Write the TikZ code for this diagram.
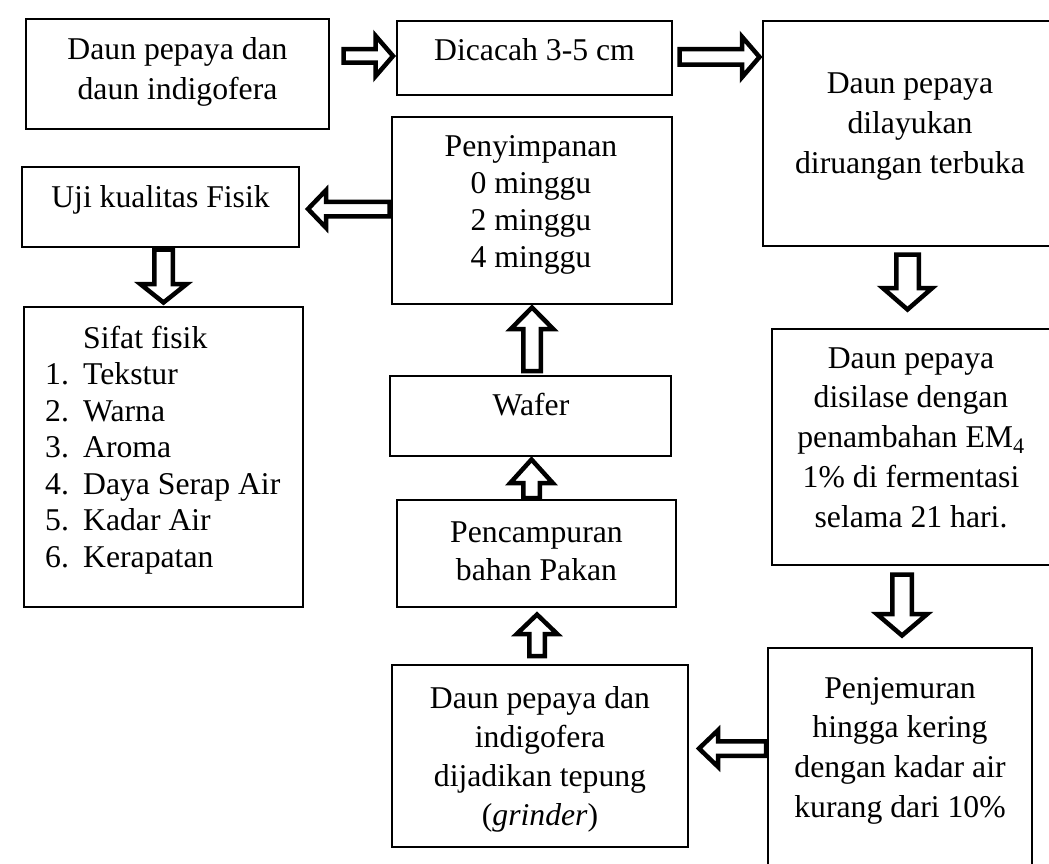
\documentclass[tikz,border=0pt]{standalone}
\usepackage{fontspec}
\setmainfont{Liberation Serif}
\usetikzlibrary{calc,fit}
\begin{document}
\begin{tikzpicture}[x=1pt,y=-1pt,
  box/.style={draw, line width=2pt, inner sep=0pt, outer sep=0pt},
  txt/.style={inner sep=0pt, align=center, font=\fontsize{31.7}{#1}\selectfont},
  txt/.default=40,
  arrsw/.store in=\arrsw, arrhw/.store in=\arrhw, arrhl/.store in=\arrhl,
  blk/.style n args={3}{draw, fill=white, line width=4.5pt, line join=miter, miter limit=10,
    arrsw=#1pt, arrhw=#2pt, arrhl=#3pt,
    to path={let \p1=(\tikztostart), \p2=(\tikztotarget),
      \n1={atan2(\y2-\y1,\x2-\x1)}, \n2={veclen(\x2-\x1,\y2-\y1)} in
      ($(\p1)+(\n1+90:\arrsw)$) -- ($(\p1)+(\n1:\n2-\arrhl)+(\n1+90:\arrsw)$)
      -- ($(\p1)+(\n1:\n2-\arrhl)+(\n1+90:\arrhw)$) -- (\p2)
      -- ($(\p1)+(\n1:\n2-\arrhl)+(\n1-90:\arrhw)$)
      -- ($(\p1)+(\n1:\n2-\arrhl)+(\n1-90:\arrsw)$)
      -- ($(\p1)+(\n1-90:\arrsw)$) -- cycle}}
]
\useasboundingbox (0,0) rectangle (1049,864);
\clip (0,0) rectangle (1049,864);

% boxes
\node[box, fit={(26,19) (329,129)}] (b1) {};
\node[box, fit={(397,21) (672,95)}] (b2) {};
\node[box, fit={(763,21) (1057,246)}] (b3) {};
\node[box, fit={(22,167) (299,247)}] (b4) {};
\node[box, fit={(392,117) (672,304)}] (b5) {};
\node[box, fit={(24,307) (303,607)}] (b6) {};
\node[box, fit={(390,376) (671,456)}] (b7) {};
\node[box, fit={(397,500) (676,607)}] (b8) {};
\node[box, fit={(772,329) (1051,565)}] (b9) {};
\node[box, fit={(392,665) (688,847)}] (b10) {};
\node[box, fit={(768,648) (1032,880)}] (b11) {};

% texts (anchor = baseline of the last line)
\node[txt, anchor=base] (t1) at (177.5,100) {Daun pepaya dan\\daun indigofera};
\node[txt, anchor=base] (t2) at (534.5,61) {Dicacah 3-5 cm};
\node[txt, anchor=base] (t3) at (910,173) {Daun pepaya\\dilayukan\\diruangan terbuka};
\node[txt, anchor=base] (t4) at (160.5,207) {Uji kualitas Fisik};
\node[txt=36.7, anchor=base] (t5) at (531,267) {Penyimpanan\\0 minggu\\2 minggu\\4 minggu};
\node[txt=36.5, anchor=base west, align=left] (t6) at (45,567)
  {\hspace*{38pt}Sifat fisik\\\makebox[38pt][l]{1.}Tekstur\\\makebox[38pt][l]{2.}Warna\\
   \makebox[38pt][l]{3.}Aroma\\\makebox[38pt][l]{4.}Daya Serap Air\\
   \makebox[38pt][l]{5.}Kadar Air\\\makebox[38pt][l]{6.}Kerapatan};
\node[txt, anchor=base] (t7) at (531,415) {Wafer};
\node[txt=38, anchor=base] (t8) at (536.5,580) {Pencampuran\\bahan Pakan};
\node[txt=39.75, anchor=base] (t9) at (911,527) {Daun pepaya\\disilase dengan\\penambahan EM\textsubscript{4}\\1\% di fermentasi\\selama 21 hari.};
\node[txt=39, anchor=base] (t10) at (540,825) {Daun pepaya dan\\indigofera\\dijadikan tepung\\(\textit{grinder})};
\node[txt=39.6, anchor=base] (t11) at (900,817) {Penjemuran\\hingga kering\\dengan kadar air\\kurang dari 10\%};

% block arrows
\draw[blk={6.75}{20.25}{17.5}] ($(b1.east|-0,56)+(14.5,0)$) to ($(b2.west|-0,56)+(-4,0)$);
\draw[blk={7.75}{20.25}{17.5}] ($(b2.east|-0,57)+(7.5,0)$) to ($(b3.west|-0,57)+(-3.5,0)$);
\draw[blk={7.25}{18.75}{18}] ($(b5.west|-0,209)+(-2.5,0)$) to ($(b4.east|-0,209)+(9,0)$);
\draw[blk={9.25}{23.25}{18.5}] ($(163.5,0|-b4.south)+(0,2.5)$) to ($(163.5,0|-b6.north)+(0,-4.5)$);
\draw[blk={11.25}{24.75}{21.5}] ($(907.5,0|-b3.south)+(0,8.5)$) to ($(907.5,0|-b9.north)+(0,-19.5)$);
\draw[blk={9.75}{25.25}{21.5}] ($(902,0|-b9.south)+(0,9.5)$) to ($(902,0|-b11.north)+(0,-12.5)$);
\draw[blk={7.25}{18.25}{19}] ($(b11.west|-0,748.5)+(-2,0)$) to ($(b10.east|-0,748.5)+(11,0)$);
\draw[blk={7.75}{20.25}{19.5}] ($(537,0|-b10.north)+(0,-9)$) to ($(537,0|-b8.south)+(0,7.5)$);
\draw[blk={8.25}{21.25}{23.5}] ($(531.5,0|-b8.north)+(0,-2)$) to ($(531.5,0|-b7.south)+(0,3.5)$);
\draw[blk={8.75}{21.25}{21.5}] ($(532,0|-b7.north)+(0,-5)$) to ($(532,0|-b5.south)+(0,3.5)$);
\end{tikzpicture}
\end{document}
